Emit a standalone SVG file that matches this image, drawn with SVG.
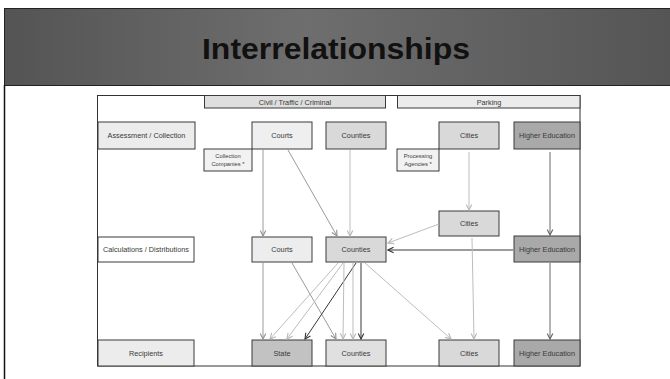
<svg xmlns="http://www.w3.org/2000/svg" width="670" height="379" viewBox="0 0 670 379">
  <defs>
    <linearGradient id="bar" x1="0" y1="0" x2="1" y2="0">
      <stop offset="0" stop-color="#545454"/>
      <stop offset="0.45" stop-color="#6e6e6e"/>
      <stop offset="1" stop-color="#555555"/>
    </linearGradient>
    <marker id="aL" viewBox="0 0 10 10" refX="9" refY="5" markerWidth="7" markerHeight="7" markerUnits="userSpaceOnUse" orient="auto">
      <path d="M1,1 L9,5 L1,9" fill="none" stroke="#b8b8b8" stroke-width="1.6"/>
    </marker>
    <marker id="aM" viewBox="0 0 10 10" refX="9" refY="5" markerWidth="7" markerHeight="7" markerUnits="userSpaceOnUse" orient="auto">
      <path d="M1,1 L9,5 L1,9" fill="none" stroke="#929292" stroke-width="1.6"/>
    </marker>
    <marker id="aD" viewBox="0 0 10 10" refX="9" refY="5" markerWidth="7" markerHeight="7" markerUnits="userSpaceOnUse" orient="auto">
      <path d="M1,1 L9,5 L1,9" fill="none" stroke="#666666" stroke-width="1.6"/>
    </marker>
    <marker id="aK" viewBox="0 0 10 10" refX="9" refY="5" markerWidth="7" markerHeight="7" markerUnits="userSpaceOnUse" orient="auto">
      <path d="M1,1 L9,5 L1,9" fill="none" stroke="#383838" stroke-width="1.6"/>
    </marker>
  </defs>
  <style>
    .box { stroke: #3a3a3a; stroke-width: 1; }
    .t { font-family: "Liberation Sans", Arial, sans-serif; font-size: 7.3px; fill: #3a3a3a; text-anchor: middle; dominant-baseline: central; }
    .ts { font-family: "Liberation Sans", Arial, sans-serif; font-size: 5.8px; fill: #3a3a3a; text-anchor: middle; }
    .cL { stroke: #bdbdbd; stroke-width: 1; fill: none; marker-end: url(#aL); }
    .cM { stroke: #9a9a9a; stroke-width: 1; fill: none; marker-end: url(#aM); }
    .cD { stroke: #6a6a6a; stroke-width: 1; fill: none; marker-end: url(#aD); }
    .cK { stroke: #383838; stroke-width: 1; fill: none; marker-end: url(#aK); }
  </style>

  <rect x="0" y="0" width="670" height="379" fill="#ffffff"/>
  <!-- title bar -->
  <g id="title">
    <rect x="4.5" y="8.5" width="666" height="77" fill="url(#bar)" stroke="#222" stroke-width="1"/>
    <text x="336" y="59" font-family="'Liberation Sans', Arial, sans-serif" font-weight="bold" font-size="29" fill="#111" text-anchor="middle" textLength="268" lengthAdjust="spacingAndGlyphs">Interrelationships</text>
  </g>
  <line x1="4.5" y1="85" x2="4.5" y2="379" stroke="#111" stroke-width="1.5"/>

  <!-- diagram frame -->
  <rect x="97.5" y="95.5" width="482.5" height="270.5" fill="#ffffff" stroke="#333" stroke-width="1"/>

  <g id="hdr-civil">
    <rect class="box" x="204.5" y="95.5" width="181" height="12.5" fill="#dedede"/>
    <text class="t" x="295" y="102">Civil / Traffic / Criminal</text>
  </g>
  <g id="hdr-parking">
    <rect class="box" x="397.5" y="95.5" width="182.5" height="12.5" fill="#ebebeb"/>
    <text class="t" x="489" y="102">Parking</text>
  </g>

  <!-- row 1 -->
  <g id="assess">
    <rect class="box" x="98" y="122" width="97" height="27" fill="#ececec"/>
    <text class="t" x="146.5" y="135.5">Assessment / Collection</text>
  </g>
  <g id="courts1">
    <rect class="box" x="252" y="122" width="60" height="27" fill="#efefef"/>
    <text class="t" x="282" y="135.5">Courts</text>
  </g>
  <g id="counties1">
    <rect class="box" x="326" y="122" width="60" height="27" fill="#d9d9d9"/>
    <text class="t" x="356" y="135.5">Counties</text>
  </g>
  <g id="collection">
    <rect class="box" x="204" y="149" width="48" height="22" fill="#f2f2f2"/>
    <text class="ts" x="228" y="157.5">Collection</text>
    <text class="ts" x="228" y="166">Companies *</text>
  </g>
  <g id="cities1">
    <rect class="box" x="439" y="122" width="60" height="27" fill="#d9d9d9"/>
    <text class="t" x="469" y="135.5">Cities</text>
  </g>
  <g id="highered1">
    <rect class="box" x="514" y="122" width="66" height="27" fill="#a9a9a9"/>
    <text class="t" x="547" y="135.5">Higher Education</text>
  </g>
  <g id="processing">
    <rect class="box" x="397" y="149" width="42" height="22" fill="#f2f2f2"/>
    <text class="ts" x="418" y="157.5">Processing</text>
    <text class="ts" x="418" y="166">Agencies *</text>
  </g>

  <!-- row 2 -->
  <g id="calc">
    <rect class="box" x="98" y="237" width="96" height="25" fill="#ffffff"/>
    <text class="t" x="146" y="249.5">Calculations / Distributions</text>
  </g>
  <g id="courts2">
    <rect class="box" x="252" y="237" width="60" height="25" fill="#ededed"/>
    <text class="t" x="282" y="249.5">Courts</text>
  </g>
  <g id="counties2">
    <rect class="box" x="326" y="237" width="60" height="25" fill="#d9d9d9"/>
    <text class="t" x="356" y="249.5">Counties</text>
  </g>
  <g id="cities2">
    <rect class="box" x="439" y="211" width="60" height="25" fill="#d9d9d9"/>
    <text class="t" x="469" y="223.5">Cities</text>
  </g>
  <g id="highered2">
    <rect class="box" x="514" y="236" width="66" height="26" fill="#a9a9a9"/>
    <text class="t" x="547" y="249">Higher Education</text>
  </g>

  <!-- row 3 -->
  <g id="recipients">
    <rect class="box" x="98" y="340" width="96" height="26" fill="#ececec"/>
    <text class="t" x="146" y="353">Recipients</text>
  </g>
  <g id="state">
    <rect class="box" x="252" y="340" width="60" height="26" fill="#c2c2c2"/>
    <text class="t" x="282" y="353">State</text>
  </g>
  <g id="counties3">
    <rect class="box" x="326" y="340" width="60" height="26" fill="#e0e0e0"/>
    <text class="t" x="356" y="353">Counties</text>
  </g>
  <g id="cities3">
    <rect class="box" x="439" y="340" width="60" height="26" fill="#d9d9d9"/>
    <text class="t" x="469" y="353">Cities</text>
  </g>
  <g id="highered3">
    <rect class="box" x="514" y="340" width="66" height="26" fill="#a9a9a9"/>
    <text class="t" x="547" y="353">Higher Education</text>
  </g>

  <!-- connectors -->
  <g id="connectors">
    <line class="cM" x1="263" y1="150" x2="263" y2="236"/>
    <line class="cM" x1="288" y1="150" x2="337" y2="236"/>
    <line class="cL" x1="350" y1="150" x2="350" y2="236"/>
    <line class="cL" x1="469" y1="152" x2="469" y2="210"/>
    <line class="cD" x1="550" y1="152" x2="550" y2="235"/>
    <line class="cL" x1="439" y1="224" x2="388" y2="243"/>
    <line class="cK" x1="513" y1="250" x2="388" y2="250"/>
    <line class="cL" x1="472" y1="238" x2="474" y2="339"/>
    <line class="cD" x1="550" y1="263" x2="550" y2="339"/>
    <line class="cM" x1="263" y1="263" x2="263" y2="339"/>
    <line class="cM" x1="292" y1="263" x2="336" y2="339"/>
    <line class="cL" x1="338" y1="263" x2="270" y2="339"/>
    <line class="cL" x1="343" y1="263" x2="287" y2="339"/>
    <line class="cK" x1="356" y1="263" x2="305" y2="339"/>
    <line class="cL" x1="344" y1="263" x2="343" y2="339"/>
    <line class="cL" x1="353" y1="263" x2="353" y2="339"/>
    <line class="cK" x1="361" y1="263" x2="361" y2="339"/>
    <line class="cL" x1="365" y1="263" x2="451" y2="339"/>
  </g>
</svg>
